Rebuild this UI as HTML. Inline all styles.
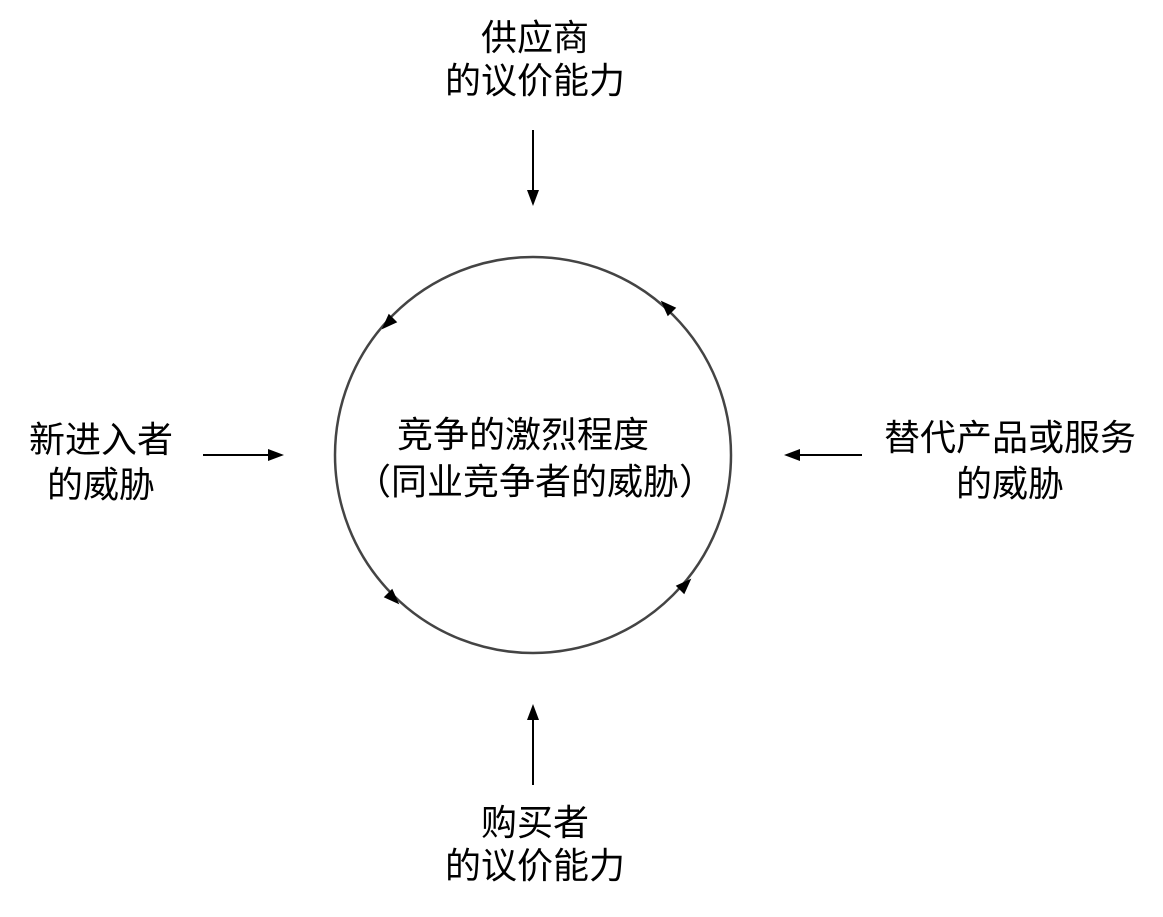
<!DOCTYPE html>
<html><head><meta charset="utf-8"><style>
html,body{margin:0;padding:0;background:#fff;}
svg text{font-family:"Liberation Sans","Noto Sans CJK SC",sans-serif;font-size:36px;fill:#000;}
</style></head><body>
<svg width="1163" height="912" viewBox="0 0 1163 912" xmlns="http://www.w3.org/2000/svg">
<defs>
<marker id="a" markerWidth="10" markerHeight="8" refX="9" refY="4" orient="auto" markerUnits="userSpaceOnUse"><path d="M0,0 L10,4 L0,8 z" fill="#000"/></marker>
</defs>
<circle cx="533" cy="455" r="198" fill="none" stroke="#444" stroke-width="2.5"/>
<g fill="#000">
<path d="M0,-6 L16,0 L0,6 z" transform="translate(393,318) rotate(135)"/>
<path d="M0,-6 L16,0 L0,6 z" transform="translate(672,312) rotate(-135)"/>
<path d="M0,-6 L16,0 L0,6 z" transform="translate(388,593) rotate(45)"/>
<path d="M0,-6 L16,0 L0,6 z" transform="translate(680,590) rotate(-45)"/>
</g>
<g stroke="#000" stroke-width="2" fill="none">
<line x1="533" y1="130" x2="533" y2="195"/>
<line x1="533" y1="785" x2="533" y2="715"/>
<line x1="203" y1="455" x2="272" y2="455"/>
<line x1="862" y1="455" x2="796" y2="455"/>
</g>
<g fill="#000">
<path d="M527,190 L533,206 L539,190 z"/>
<path d="M527,720 L533,704 L539,720 z"/>
<path d="M268,449 L284,455 L268,461 z"/>
<path d="M800,449 L784,455 L800,461 z"/>
</g>
<g text-anchor="middle">
<text x="535" y="50">供应商</text>
<text x="535" y="93">的议价能力</text>
<text x="535" y="835">购买者</text>
<text x="535" y="878">的议价能力</text>
<text x="101" y="452">新进入者</text>
<text x="101" y="497">的威胁</text>
<text x="1010" y="450">替代产品或服务</text>
<text x="1010" y="496">的威胁</text>
<text x="523" y="447">竞争的激烈程度</text>
<text x="535" y="494">（同业竞争者的威胁）</text>
</g>
</svg>
</body></html>
